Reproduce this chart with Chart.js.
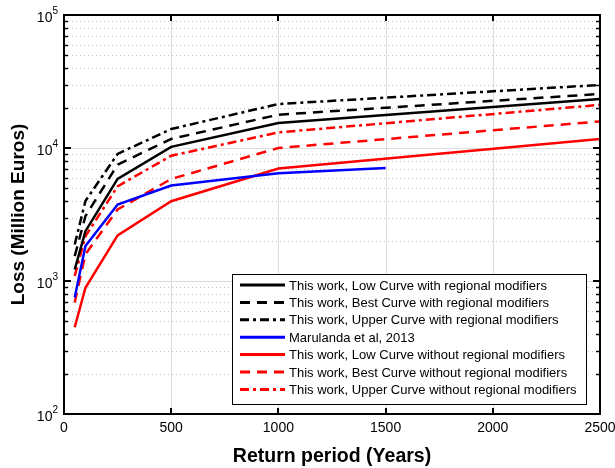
<!DOCTYPE html>
<html>
<head>
<meta charset="utf-8">
<script src="https://cdn.jsdelivr.net/npm/chart.js@4/dist/chart.umd.min.js"></script>
<style>
  html, body { margin: 0; padding: 0; background: #fff; }
  canvas { display: block; }
</style>
</head>
<body>
<canvas id="lossChart" width="615" height="468"></canvas>
<script>
const returnPeriods = [50, 100, 250, 500, 1000, 2500];
const marulandaPeriods = [50, 100, 250, 500, 1000, 1500];

const lowWith = [1220, 2370, 5850, 10200, 15400, 23400];
const bestWith = [1540, 3070, 7500, 11700, 17800, 25500];
const upperWith = [1880, 4000, 9020, 13900, 21400, 29800];
const marulanda = [753, 1830, 3760, 5220, 6460, 7070];
const lowWithout = [449, 890, 2200, 3980, 7000, 11700];
const bestWithout = [690, 1590, 3450, 5850, 10000, 15850];
const upperWithout = [1090, 2170, 5150, 8750, 13100, 21100];

const xTicks = [0, 500, 1000, 1500, 2000, 2500];
const yTicks = [100, 1000, 10000, 100000];
const yExponents = ['2', '3', '4', '5'];

const FONT = '"Liberation Sans", Arial, sans-serif';
const DASHED = [10, 7];
const DASHDOT = [9, 4, 3, 4];

function pts(xs, ys) {
  return xs.map((x, i) => ({ x: x, y: ys[i] }));
}

function series(label, xs, ys, color, dash) {
  return {
    label: label,
    data: pts(xs, ys),
    borderColor: color,
    backgroundColor: color,
    borderWidth: 2.5,
    borderDash: dash,
    pointRadius: 0,
    tension: 0,
    fill: false
  };
}

// minor log gridlines: 2..9 within each decade
const minorValues = [];
[100, 1000, 10000].forEach(d => {
  for (let m = 2; m <= 9; m++) minorValues.push(m * d);
});

function hline(ctx, x1, x2, y) {
  ctx.beginPath(); ctx.moveTo(x1, y); ctx.lineTo(x2, y); ctx.stroke();
}
function vline(ctx, x, y1, y2) {
  ctx.beginPath(); ctx.moveTo(x, y1); ctx.lineTo(x, y2); ctx.stroke();
}

const framePlugin = {
  id: 'frame',
  beforeDatasetsDraw(chart) {
    const { ctx, chartArea: a, scales: { x, y } } = chart;
    ctx.save();
    ctx.lineWidth = 1;
    ctx.strokeStyle = '#c4c4c4';
    ctx.setLineDash([1, 3]);
    minorValues.forEach(v => {
      hline(ctx, a.left, a.right, Math.round(y.getPixelForValue(v)) + 0.5);
    });
    ctx.setLineDash([]);
    ctx.strokeStyle = '#dddddd';
    xTicks.slice(1, -1).forEach(v => {
      vline(ctx, Math.round(x.getPixelForValue(v)) + 0.5, a.top, a.bottom);
    });
    yTicks.slice(1, -1).forEach(v => {
      hline(ctx, a.left, a.right, Math.round(y.getPixelForValue(v)) + 0.5);
    });
    ctx.restore();
  },
  afterDatasetsDraw(chart) {
    const { ctx, chartArea: a, scales: { x, y } } = chart;
    ctx.save();
    ctx.strokeStyle = '#000';
    ctx.lineWidth = 2;
    ctx.strokeRect(a.left, a.top, a.right - a.left, a.bottom - a.top);

    // inward tick marks
    ctx.lineWidth = 2;
    xTicks.slice(1, -1).forEach(v => {
      const px = Math.round(x.getPixelForValue(v));
      vline(ctx, px, a.bottom, a.bottom - 6);
      vline(ctx, px, a.top, a.top + 6);
    });
    ctx.lineWidth = 1.5;
    minorValues.forEach(v => {
      const py = Math.round(y.getPixelForValue(v)) + 0.5;
      hline(ctx, a.left, a.left + 4, py);
      hline(ctx, a.right, a.right - 4, py);
    });
    ctx.lineWidth = 2;
    yTicks.slice(1, -1).forEach(v => {
      const py = Math.round(y.getPixelForValue(v));
      hline(ctx, a.left, a.left + 7, py);
      hline(ctx, a.right, a.right - 7, py);
    });

    // y tick labels as 10 with a raised exponent
    ctx.fillStyle = '#000';
    ctx.textBaseline = 'alphabetic';
    yTicks.forEach((v, i) => {
      const py = y.getPixelForValue(v);
      ctx.font = '10px ' + FONT;
      const ew = ctx.measureText(yExponents[i]).width;
      const right = a.left - 6;
      ctx.textAlign = 'left';
      ctx.fillText(yExponents[i], right - ew, py - 1);
      ctx.font = '14px ' + FONT;
      ctx.textAlign = 'right';
      ctx.fillText('10', right - ew, py + 7);
    });

    // legend box
    const L = { left: 232, top: 274, right: 586, bottom: 404, row: 17.4 };
    ctx.fillStyle = '#fff';
    ctx.fillRect(L.left, L.top, L.right - L.left, L.bottom - L.top);
    ctx.lineWidth = 1;
    ctx.strokeStyle = '#000';
    ctx.strokeRect(L.left + 0.5, L.top + 0.5, L.right - L.left, L.bottom - L.top);
    ctx.font = '13px ' + FONT;
    ctx.textAlign = 'left';
    ctx.textBaseline = 'middle';
    chart.data.datasets.forEach((ds, i) => {
      const cy = L.top + 11 + i * L.row;
      ctx.strokeStyle = ds.borderColor;
      ctx.lineWidth = 3;
      ctx.setLineDash(ds.borderDash || []);
      hline(ctx, 240, 285, cy);
      ctx.setLineDash([]);
      ctx.fillStyle = '#000';
      ctx.fillText(ds.label, 289, cy + 1);
    });
    ctx.restore();
  }
};

new Chart(document.getElementById('lossChart').getContext('2d'), {
  type: 'line',
  data: {
    datasets: [
      series('This work, Low Curve with regional modifiers', returnPeriods, lowWith, '#000000', []),
      series('This work, Best Curve with regional modifiers', returnPeriods, bestWith, '#000000', DASHED),
      series('This work, Upper Curve with regional modifiers', returnPeriods, upperWith, '#000000', DASHDOT),
      series('Marulanda et al, 2013', marulandaPeriods, marulanda, '#0000ff', []),
      series('This work, Low Curve without regional modifiers', returnPeriods, lowWithout, '#ff0000', []),
      series('This work, Best Curve without regional modifiers', returnPeriods, bestWithout, '#ff0000', DASHED),
      series('This work, Upper Curve without regional modifiers', returnPeriods, upperWithout, '#ff0000', DASHDOT)
    ]
  },
  options: {
    responsive: false,
    animation: false,
    devicePixelRatio: 1,
    layout: { padding: { left: 0, top: 15, right: 15, bottom: 0 } },
    plugins: { legend: { display: false }, tooltip: { enabled: false } },
    scales: {
      x: {
        type: 'linear',
        min: 0,
        max: 2500,
        afterBuildTicks: scale => { scale.ticks = xTicks.map(v => ({ value: v })); },
        afterFit: scale => {
          scale.height = 54;
          scale.paddingLeft = 0;
          scale.paddingRight = 0;
        },
        grid: { display: false, drawTicks: false },
        border: { display: false },
        ticks: {
          color: '#000',
          font: { family: FONT, size: 14 },
          padding: 6,
          maxRotation: 0,
          callback: v => String(v)
        },
        title: {
          display: true,
          text: 'Return period (Years)',
          color: '#000',
          font: { family: FONT, size: 19.5, weight: 'bold' },
          padding: { top: 0, bottom: 0 }
        }
      },
      y: {
        type: 'logarithmic',
        min: 100,
        max: 100000,
        afterFit: scale => { scale.width = 64; },
        grid: { display: false, drawTicks: false },
        border: { display: false },
        ticks: { display: false },
        title: {
          display: true,
          text: 'Loss (Million Euros)',
          color: '#000',
          font: { family: FONT, size: 19, weight: 'bold' },
          padding: { top: 7, bottom: 0 }
        }
      }
    }
  },
  plugins: [framePlugin]
});
</script>
</body>
</html>
